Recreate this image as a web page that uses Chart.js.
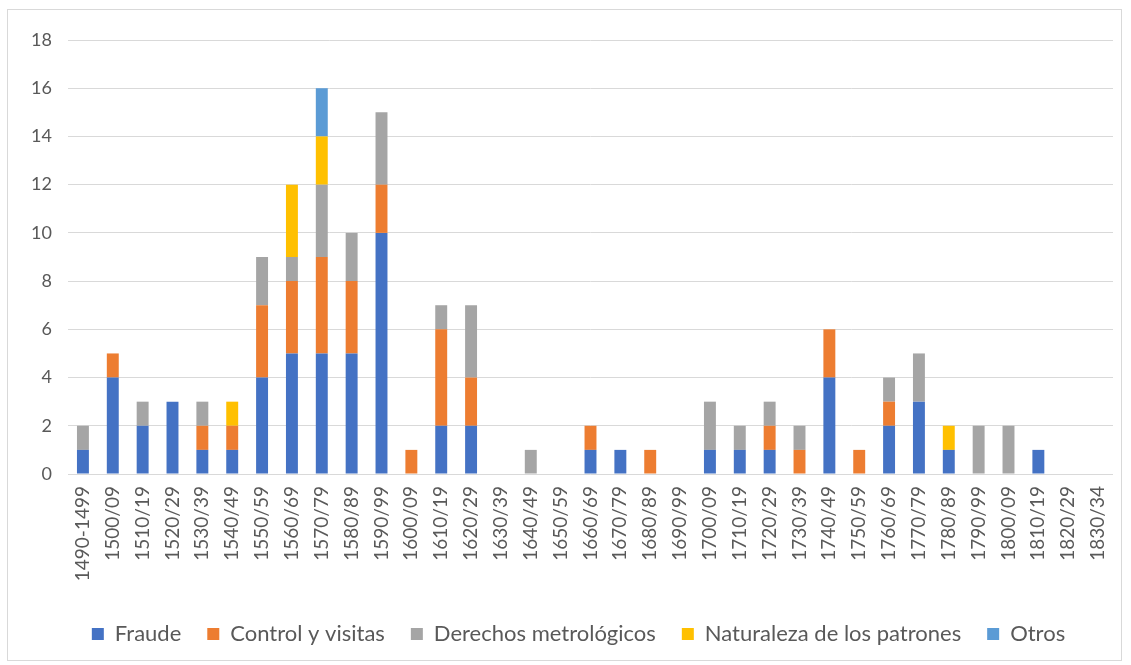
<!DOCTYPE html>
<html><head><meta charset="utf-8">
<script src="https://cdn.jsdelivr.net/npm/chart.js@4/dist/chart.umd.min.js"></script>
<style>html,body{margin:0;padding:0;background:#fff}#wrap{position:absolute;left:0;top:0;width:1131px;height:665px}</style>
</head><body><div id="wrap"><canvas id="c" width="1131" height="665"></canvas></div>
<script>
const categories = ["1490-1499","1500/09","1510/19","1520/29","1530/39","1540/49","1550/59","1560/69","1570/79","1580/89","1590/99","1600/09","1610/19","1620/29","1630/39","1640/49","1650/59","1660/69","1670/79","1680/89","1690/99","1700/09","1710/19","1720/29","1730/39","1740/49","1750/59","1760/69","1770/79","1780/89","1790/99","1800/09","1810/19","1820/29","1830/34"];
const fraude     = [1,4,2,3,1,1,4,5,5,5,10,0,2,2,0,0,0,1,1,0,0,1,1,1,0,4,0,2,3,1,0,0,1,0,0];
const control    = [0,1,0,0,1,1,3,3,4,3,2,1,4,2,0,0,0,1,0,1,0,0,0,1,1,2,1,1,0,0,0,0,0,0,0];
const derechos   = [1,0,1,0,1,0,2,1,3,2,3,0,1,3,0,1,0,0,0,0,0,2,1,1,1,0,0,1,2,0,2,2,0,0,0];
const naturaleza = [0,0,0,0,0,1,0,3,2,0,0,0,0,0,0,0,0,0,0,0,0,0,0,0,0,0,0,0,0,1,0,0,0,0,0];
const otros      = [0,0,0,0,0,0,0,0,2,0,0,0,0,0,0,0,0,0,0,0,0,0,0,0,0,0,0,0,0,0,0,0,0,0,0];
const yTicks = [0,2,4,6,8,10,12,14,16,18];

const FONT = "Lato, 'Liberation Sans', sans-serif";
const border = {id:'border',
  beforeDraw(ch){const c=ch.ctx;c.save();c.fillStyle='#fff';c.fillRect(0,0,ch.width,ch.height);c.strokeStyle='#D9D9D9';c.lineWidth=1;c.strokeRect(7.5,9.5,1114,651);c.restore();},
  afterLayout(ch){ if(ch.legend){ ch.legend.left+=22; ch.legend.right+=22; } }
};
const mk=(label,data,color)=>({label,data:data.map(v=>v===0?null:v),backgroundColor:color,borderWidth:0,barPercentage:0.4,categoryPercentage:1.0});
new Chart(document.getElementById('c'),{
  type:'bar',
  data:{labels:categories,datasets:[
    mk('Fraude',fraude,'#4472C4'),
    mk('Control y visitas',control,'#ED7D31'),
    mk('Derechos metrológicos',derechos,'#A5A5A5'),
    mk('Naturaleza de los patrones',naturaleza,'#FFC000'),
    mk('Otros',otros,'#5B9BD5')
  ]},
  options:{
    responsive:false,animation:false,
    layout:{padding:{left:0,right:18,top:40,bottom:10}},
    plugins:{legend:{position:'bottom',labels:{boxWidth:12,boxHeight:12,padding:26,color:'#595959',font:{family:FONT,size:22}}},tooltip:{enabled:false}},
    scales:{
      x:{stacked:true,grid:{display:false},border:{display:false},
         ticks:{color:'#595959',font:{family:FONT,size:19},maxRotation:90,minRotation:90,autoSkip:false,padding:4},
         afterFit(s){s.height=123;}},
      y:{stacked:true,min:0,max:18,
         afterBuildTicks(s){s.ticks=yTicks.map(v=>({value:v}));},
         grid:{color:'#D9D9D9',lineWidth:1,drawTicks:false},border:{display:false},
         ticks:{color:'#595959',font:{family:FONT,size:18},padding:16},
         afterFit(s){s.width=68;}}
    }
  },
  plugins:[border]
});
</script></body></html>
